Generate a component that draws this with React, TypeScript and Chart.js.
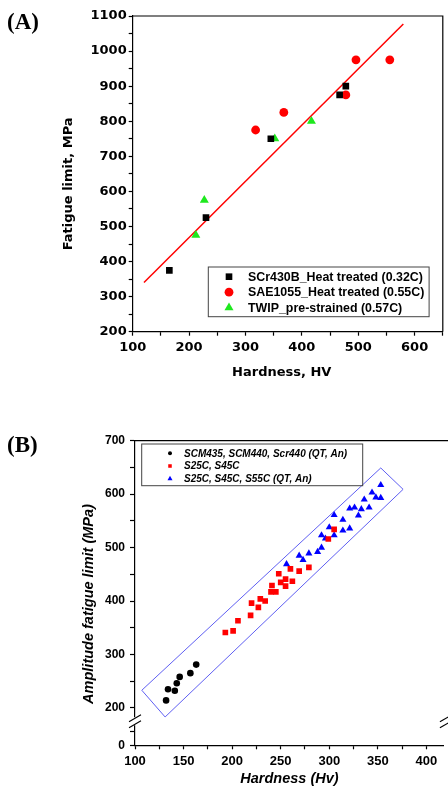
import React, { useEffect, useRef } from 'react';
import { Chart, registerables } from 'chart.js';

Chart.register(...registerables);

// ---------------- Panel (A) data ----------------
const scrHardness = [165, 230, 345, 467, 478];
const scrFatigue = [375, 525, 750, 875, 900];
const saeHardness = [318, 368, 478, 496, 556];
const saeFatigue = [775, 825, 875, 975, 975];
const twipHardness = [212, 227, 352, 417];
const twipFatigue = [475, 575, 750, 800];
const fitHardness = [120, 580];
const fitFatigue = [340, 1077];
const aXTickLabels = [100, 200, 300, 400, 500, 600];
const aYTickLabels = [200, 300, 400, 500, 600, 700, 800, 900, 1000, 1100];
const aLegendLabels = [
  'SCr430B_Heat treated (0.32C)',
  'SAE1055_Heat treated (0.55C)',
  'TWIP_pre-strained (0.57C)',
];

// ---------------- Panel (B) data ----------------
const scmHardness = [132, 134, 141, 143, 146, 157, 163];
const scmAmplitude = [214, 235, 232, 246, 258, 265, 281];
const sxxHardness = [193, 201, 206, 219, 220, 227, 229, 234, 240, 245, 241, 248, 250, 255, 255, 260, 262, 269, 279, 299, 305];
const sxxAmplitude = [341, 344, 363, 373, 396, 388, 404, 400, 417, 417, 429, 451, 435, 428, 441, 460, 437, 456, 463, 516, 534];
const sqtHardness = [256, 269, 273, 279, 288, 292, 292, 296, 300, 305, 305, 314, 314, 321, 321, 326, 330, 333, 336, 341, 344, 348, 353, 353];
const sqtAmplitude = [469, 485, 477, 489, 492, 500, 523, 517, 538, 523, 561, 532, 552, 536, 573, 575, 560, 572, 590, 575, 603, 594, 593, 617];
const bandHardness = [107, 353, 376, 131, 107];
const bandAmplitude = [233, 649, 609, 183, 233];
const bXTickLabels = [100, 150, 200, 250, 300, 350, 400];
const bYTickLabels = [0, 200, 300, 400, 500, 600, 700];
const bLegendLabels = [
  'SCM435, SCM440, Scr440 (QT, An)',
  'S25C, S45C',
  'S25C, S45C, S55C (QT, An)',
];

const SANS = '"Liberation Sans", Arial, sans-serif';
const WIDE = '"DejaVu Sans", Verdana, sans-serif';

const toXY = (xs: number[], ys: number[]) => xs.map((x, i) => ({ x, y: ys[i] }));

function marker(ctx: CanvasRenderingContext2D, style: string, x: number, y: number, r: number, color: string) {
  ctx.fillStyle = color;
  ctx.beginPath();
  if (style === 'rect') {
    const s = r * Math.SQRT1_2;
    ctx.rect(x - s, y - s, 2 * s, 2 * s);
  } else if (style === 'circle') {
    ctx.arc(x, y, r, 0, Math.PI * 2);
  } else {
    ctx.moveTo(x, y - r);
    ctx.lineTo(x + r * Math.sin((2 * Math.PI) / 3), y - r * Math.cos((2 * Math.PI) / 3));
    ctx.lineTo(x + r * Math.sin((4 * Math.PI) / 3), y - r * Math.cos((4 * Math.PI) / 3));
    ctx.closePath();
  }
  ctx.fill();
}

function tickAxis(min: number, max: number, step: number, labels: number[], font: any, pad: number, tl: number, extra: any = {}) {
  return {
    type: 'linear',
    min,
    max,
    ticks: {
      stepSize: step,
      autoSkip: false,
      maxRotation: 0,
      includeBounds: false,
      padding: pad,
      color: '#000',
      font,
      callback: (v: number) => (labels.includes(v) ? String(v) : ''),
    },
    grid: { display: true, drawOnChartArea: false, drawTicks: true, tickLength: tl, tickColor: '#000', tickWidth: 1.2 },
    border: { display: true, color: '#000', width: 1.2 },
    ...extra,
  };
}

function configA(): any {
  const tickFont = { family: WIDE, size: 13, weight: 'bold' };
  const panelPlugin = {
    id: 'panelA',
    afterDraw(chart: any) {
      const { ctx, chartArea: a } = chart;
      ctx.save();
      ctx.strokeStyle = '#000';
      ctx.lineWidth = 1.2;
      ctx.beginPath();
      ctx.moveTo(a.left, a.top);
      ctx.lineTo(a.right, a.top);
      ctx.lineTo(a.right, a.bottom);
      ctx.stroke();
      const bl = a.left + 75.6, br = a.right - 13.7, bb = a.bottom - 15, bt = a.bottom - 64.7;
      ctx.strokeStyle = '#444';
      ctx.lineWidth = 1;
      ctx.strokeRect(bl, bt, br - bl, bb - bt);
      const styles = [['rect', '#000000', 4.7], ['circle', '#ff0000', 4.4], ['triangle', '#1ee81e', 5.2]];
      ctx.font = `bold 12.4px ${SANS}`;
      ctx.textAlign = 'left';
      ctx.textBaseline = 'middle';
      aLegendLabels.forEach((lab, i) => {
        const y = bt + 9.7 + i * 15.5;
        const [st, col, r] = styles[i] as any;
        marker(ctx, st, bl + 20.7, y, r, col);
        ctx.fillStyle = '#000';
        ctx.fillText(lab, bl + 39.7, y + 0.5);
      });
      ctx.fillStyle = '#000';
      ctx.font = `bold 13px ${WIDE}`;
      ctx.textAlign = 'center';
      ctx.fillText('Hardness, HV', (a.left + a.right) / 2 - 6, a.bottom + 41);
      ctx.translate(69, (a.top + a.bottom) / 2 + 10);
      ctx.rotate(-Math.PI / 2);
      ctx.fillText('Fatigue limit, MPa', 0, 0);
      ctx.restore();
    },
  };
  return {
    type: 'scatter',
    data: {
      datasets: [
        { label: aLegendLabels[0], data: toXY(scrHardness, scrFatigue), pointStyle: 'rect', pointRadius: 4.7, backgroundColor: '#000000', borderWidth: 0 },
        { label: aLegendLabels[1], data: toXY(saeHardness, saeFatigue), pointStyle: 'circle', pointRadius: 4.4, backgroundColor: '#ff0000', borderWidth: 0 },
        { label: aLegendLabels[2], data: toXY(twipHardness, twipFatigue), pointStyle: 'triangle', pointRadius: 5.2, backgroundColor: '#1ee81e', borderWidth: 0 },
        { label: 'fit', data: toXY(fitHardness, fitFatigue), showLine: true, pointRadius: 0, borderColor: '#ff0000', borderWidth: 1.5, backgroundColor: '#ff0000' },
      ],
    },
    options: {
      responsive: false,
      animation: false,
      devicePixelRatio: 1,
      layout: { padding: { left: 0, right: 1, top: 16, bottom: 0 } },
      plugins: { legend: { display: false }, tooltip: { enabled: false } },
      scales: {
        x: tickAxis(100, 650, 50, aXTickLabels, tickFont, 4.5, 4, { position: 'bottom', afterFit: (s: any) => { s.height = 60.3; } }),
        y: tickAxis(200, 1100, 50, aYTickLabels, tickFont, 2, 4, { position: 'left', afterFit: (s: any) => { s.width = 132.7; } }),
      },
    },
    plugins: [panelPlugin],
  };
}

function configB(): any {
  const xFont = { family: SANS, size: 13, weight: 'bold' };
  const yFont = { family: SANS, size: 12, weight: 'bold' };
  const panelPlugin = {
    id: 'panelB',
    afterDraw(chart: any) {
      const { ctx, chartArea: a, width } = chart;
      const ym = chart.scales.y;
      const y0 = chart.scales.y0;
      const b = ym.bottom > y0.bottom - 1 ? ym.top : ym.bottom;
      ctx.save();
      ctx.strokeStyle = '#000';
      ctx.lineWidth = 1.2;
      ctx.beginPath();
      ctx.moveTo(a.left, a.top);
      ctx.lineTo(width, a.top);
      ctx.stroke();
      ctx.fillStyle = '#fff';
      ctx.fillRect(a.left - 2, b - 4, 4, 8);
      ctx.strokeStyle = '#000';
      ctx.lineWidth = 1.1;
      for (const cx of [a.left, a.right + 2]) {
        for (const dy of [-3, 3]) {
          ctx.beginPath();
          ctx.moveTo(cx - 6, b + dy + 3.5);
          ctx.lineTo(cx + 6, b + dy - 3.5);
          ctx.stroke();
        }
      }
      const bl = a.left + 6.7, br = a.left + 227.7, bt = a.top + 3.3, bb = a.top + 45;
      ctx.strokeStyle = '#444';
      ctx.lineWidth = 1;
      ctx.strokeRect(bl, bt, br - bl, bb - bt);
      const styles = [['circle', '#000000', 2], ['rect', '#ff0000', 2.5], ['triangle', '#0000ff', 2.9]];
      ctx.font = `italic bold 10px ${SANS}`;
      ctx.textAlign = 'left';
      ctx.textBaseline = 'middle';
      bLegendLabels.forEach((lab, i) => {
        const y = bt + 9.3 + i * 12.7;
        const [st, col, r] = styles[i] as any;
        marker(ctx, st, bl + 28.3, y, r, col);
        ctx.fillStyle = '#000';
        ctx.fillText(lab, bl + 42.3, y + 0.5);
      });
      ctx.fillStyle = '#000';
      ctx.font = `italic bold 14.5px ${SANS}`;
      ctx.textAlign = 'center';
      ctx.fillText('Hardness (Hv)', (a.left + a.right) / 2, a.bottom + 34);
      ctx.translate(89, (a.top + a.bottom) / 2 + 11);
      ctx.rotate(-Math.PI / 2);
      ctx.fillText('Amplitude fatigue limit (MPa)', 0, 0);
      ctx.restore();
    },
  };
  return {
    type: 'scatter',
    data: {
      datasets: [
        { label: bLegendLabels[0], data: toXY(scmHardness, scmAmplitude), pointStyle: 'circle', pointRadius: 3.3, backgroundColor: '#000000', borderWidth: 0, yAxisID: 'y' },
        { label: bLegendLabels[1], data: toXY(sxxHardness, sxxAmplitude), pointStyle: 'rect', pointRadius: 4, backgroundColor: '#ff0000', borderWidth: 0, yAxisID: 'y' },
        { label: bLegendLabels[2], data: toXY(sqtHardness, sqtAmplitude), pointStyle: 'triangle', pointRadius: 4.1, backgroundColor: '#0000ff', borderWidth: 0, yAxisID: 'y' },
        { label: 'band', data: toXY(bandHardness, bandAmplitude), showLine: true, pointRadius: 0, borderColor: '#5f5ff2', borderWidth: 1, backgroundColor: 'transparent', yAxisID: 'y' },
      ],
    },
    options: {
      responsive: false,
      animation: false,
      devicePixelRatio: 1,
      layout: { padding: { left: 0, right: 0.5, top: 48.7, bottom: 0 } },
      plugins: { legend: { display: false }, tooltip: { enabled: false } },
      scales: {
        x: tickAxis(100, 418, 25, bXTickLabels, xFont, 4.6, 4, { position: 'bottom', afterFit: (s: any) => { s.height = 40.7; } }),
        y0: tickAxis(0, 45, 25, bYTickLabels, yFont, 5, 5, { position: 'left', stack: 'amp', stackWeight: 45, afterFit: (s: any) => { s.width = 135; } }),
        y: tickAxis(175, 700, 50, bYTickLabels, yFont, 5, 5, { position: 'left', stack: 'amp', stackWeight: 525, afterFit: (s: any) => { s.width = 135; } }),
      },
    },
    plugins: [panelPlugin],
  };
}

function ChartCanvas({ make, width, height, top }: { make: () => any; width: number; height: number; top: number }) {
  const ref = useRef<HTMLCanvasElement | null>(null);
  useEffect(() => {
    if (!ref.current) return;
    const chart = new Chart(ref.current, make());
    return () => chart.destroy();
  }, []);
  return (
    <canvas
      ref={ref}
      width={width}
      height={height}
      style={{ position: 'absolute', left: 0, top, width, height, display: 'block' }}
    />
  );
}

const labelStyle: React.CSSProperties = {
  position: 'absolute',
  left: 7,
  fontFamily: '"Liberation Serif", "Times New Roman", serif',
  fontWeight: 'bold',
  fontSize: 23,
  lineHeight: '26px',
  color: '#000',
};

export default function App() {
  return (
    <div style={{ position: 'absolute', left: 0, top: 0, width: 448, height: 786, overflow: 'hidden', background: '#fff' }}>
      <ChartCanvas make={configA} width={448} height={392} top={0} />
      <ChartCanvas make={configB} width={448} height={394} top={392} />
      <div style={{ ...labelStyle, top: 9 }}>(A)</div>
      <div style={{ ...labelStyle, top: 432 }}>(B)</div>
    </div>
  );
}
